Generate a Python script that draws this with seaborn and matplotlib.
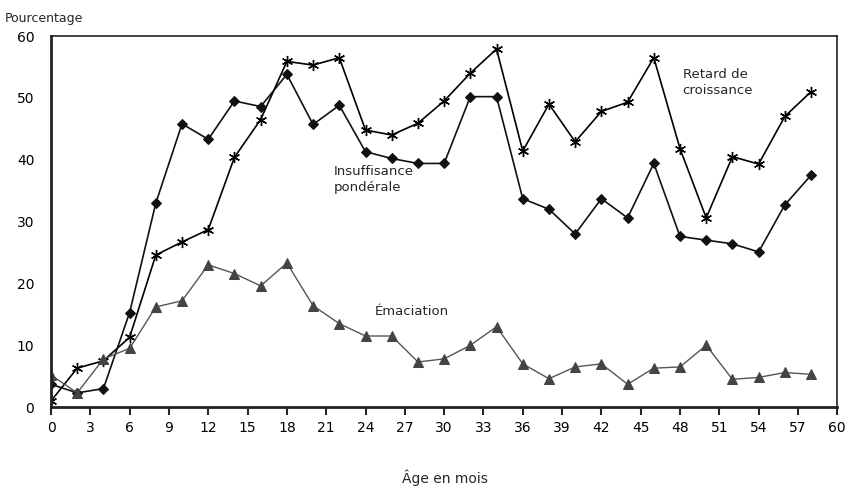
import seaborn as sns
import matplotlib.pyplot as plt
import pandas as pd

# Age in months
age = list(range(0, 60, 2))

# Values (%)
retard = [1.0, 6.3, 7.5, 11.3, 24.6, 26.7, 28.7, 40.4, 46.5, 55.9,
          55.3, 56.5, 44.8, 44.0, 45.9, 49.5, 54.0, 57.9, 41.4, 49.0,
          42.9, 47.8, 49.3, 56.5, 41.8, 30.6, 40.5, 39.3, 47.0, 51.0]
insuffisance = [3.7, 2.3, 3.0, 15.3, 33.0, 45.8, 43.3, 49.5, 48.6, 53.8,
                45.7, 48.8, 41.3, 40.2, 39.4, 39.4, 50.2, 50.2, 33.7, 32.0,
                28.0, 33.7, 30.6, 39.4, 27.6, 27.0, 26.4, 25.1, 32.7, 37.5]
emaciation = [5.2, 2.3, 7.8, 9.5, 16.2, 17.2, 23.0, 21.6, 19.6, 23.3,
              16.4, 13.5, 11.5, 11.5, 7.3, 7.8, 10.0, 13.0, 7.0, 4.6,
              6.5, 7.0, 3.7, 6.3, 6.5, 10.0, 4.5, 4.8, 5.6, 5.3]

df = pd.DataFrame({'age': age, 'retard': retard,
                   'insuffisance': insuffisance, 'emaciation': emaciation})

sns.set_style('white')
plt.rcParams['font.family'] = ['DejaVu Sans']

fig = plt.figure(figsize=(8.5, 4.87), dpi=100)
ax = fig.add_axes([0.06, 0.164, 0.925, 0.762])

sns.lineplot(df, x='age', y='retard', ax=ax, color='black', lw=1.2,
             marker=(6, 2, 0), markersize=8, markeredgewidth=1.0,
             markeredgecolor='black')
sns.lineplot(df, x='age', y='insuffisance', ax=ax, color='#111111', lw=1.2,
             marker='D', markersize=5.5, markeredgecolor='#111111')
sns.lineplot(df, x='age', y='emaciation', ax=ax, color='#555555', lw=1.0,
             marker='^', markersize=6.5, markeredgecolor='#444444',
             markerfacecolor='#444444')

ax.set_xlim(0, 60)
ax.set_ylim(0, 60)
ax.set_xticks(range(0, 61, 3))
ax.set_yticks(range(0, 61, 10))
ax.tick_params(axis='x', direction='out', length=6, width=1.5, labelsize=10,
               bottom=True, pad=4, labelcolor='black')
ax.tick_params(axis='y', length=0, labelsize=10, pad=12, labelcolor='black')
for s in ax.spines.values():
    s.set_color('#222222')
    s.set_linewidth(1.2)
ax.spines['left'].set_linewidth(2)
ax.spines['bottom'].set_linewidth(2)
ax.set_xlabel('')
ax.set_ylabel('')

fig.text(0.006, 0.962, 'Pourcentage', fontsize=9, ha='left', va='center')
fig.text(0.523, 0.018, 'Âge en mois', fontsize=10, ha='center', va='center')

ax.text(48.2, 54.8, 'Retard de\ncroissance', fontsize=9.5, va='top',
        linespacing=1.3)
ax.text(21.6, 39.2, 'Insuffisance\npondérale', fontsize=9.5, va='top',
        linespacing=1.3)
ax.text(24.7, 15.4, 'Émaciation', fontsize=9.5, va='center')

plt.savefig('out.png', dpi=100)
